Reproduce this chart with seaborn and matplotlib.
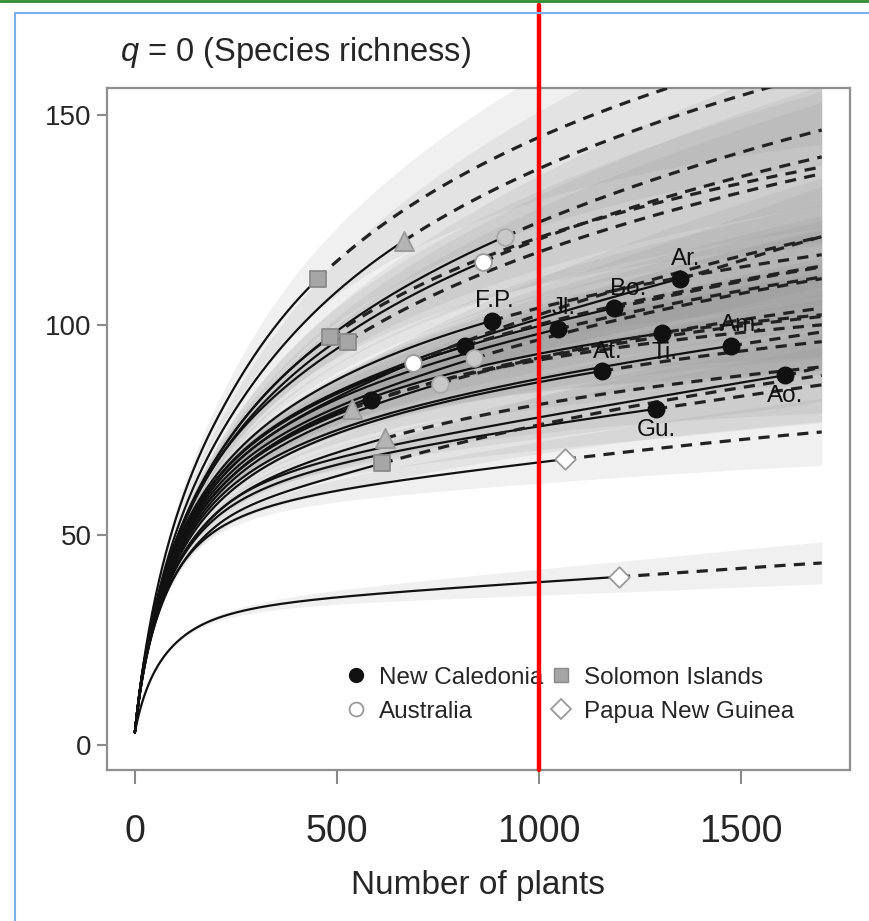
import numpy as np
import pandas as pd
import matplotlib
matplotlib.use("Agg")
import matplotlib.pyplot as plt
import seaborn as sns
from matplotlib.lines import Line2D

sns.set_style("white")
plt.rcParams['font.family'] = ['Liberation Sans', 'DejaVu Sans']
plt.rcParams['mathtext.fontset'] = 'custom'
plt.rcParams['mathtext.it'] = 'Liberation Sans:italic'
plt.rcParams['mathtext.rm'] = 'Liberation Sans'

# ---------------- data ----------------
groups = ['SI', 'TRI', 'GC', 'AU', 'SI', 'SI', 'AU', 'NC', 'NC', 'NC', 'NC', 'GC', 'NC',
          'NC', 'GC', 'NC', 'NC', 'TRI', 'NC', 'NC', 'NC', 'TRI', 'SI', 'PNG', 'PNG']
n_obs = [453, 666, 916, 861, 483, 527, 688, 1349, 884, 1186, 1047, 839, 817,
         1304, 755, 1475, 1156, 537, 585, 1609, 1290, 619, 611, 1064, 1198]
s_obs = [111, 120, 121, 115, 97, 96, 91, 111, 101, 104, 99, 92, 95,
         98, 86, 95, 89, 80, 82, 88, 80, 73, 67, 68, 40]
s_at200 = [77, 72, 68, 67, 68, 67, 62, 63, 64, 63, 62, 61, 63,
           60, 59, 58, 57, 60, 60, 55, 54, 55, 52, 51, 30]
s_end = [167, 160, 146.4, 140, 137.6, 136, 121, 121, 116.7, 113.8, 111.4, 111, 114,
         102.4, 104, 98.3, 96, 102, 100, 90, 85.7, 90, 88, 74.5, 43.3]
ci_end = [24, 22, 18, 17, 18, 17, 14, 12, 12, 11, 11, 12, 12,
          10, 12, 9, 10, 13, 12, 8, 9, 11, 11, 8, 5]
site_labels = ['', '', '', '', '', '', '', 'Ar.', 'F.P.', 'Bo.', 'Jl.', '', '',
               'Ti.', '', 'Am.', 'At.', '', '', 'Ao.', 'Gu.', '', '', '', '']
s_start = 3
n_mid = 200
n_end = 1700
legend_names = ['New Caledonia', 'Solomon Islands', 'Australia', 'Papua New Guinea']
x_ticks = [0, 500, 1000, 1500]
y_ticks = [0, 50, 100, 150]


# ---------------- smooth monotone curve through the read points ----------------
def pchip(xk, yk, x):
    xk = np.asarray(xk, float)
    yk = np.asarray(yk, float)
    h = np.diff(xk)
    d = np.diff(yk) / h
    n = len(xk)
    m = np.zeros(n)
    for k in range(1, n - 1):
        if d[k - 1] * d[k] > 0:
            w1 = 2 * h[k] + h[k - 1]
            w2 = h[k] + 2 * h[k - 1]
            m[k] = (w1 + w2) / (w1 / d[k - 1] + w2 / d[k])
    m0 = ((2 * h[0] + h[1]) * d[0] - h[0] * d[1]) / (h[0] + h[1])
    if np.sign(m0) != np.sign(d[0]):
        m0 = 0
    elif np.sign(d[0]) != np.sign(d[1]) and abs(m0) > 3 * abs(d[0]):
        m0 = 3 * d[0]
    m[0] = m0
    me = ((2 * h[-1] + h[-2]) * d[-1] - h[-1] * d[-2]) / (h[-1] + h[-2])
    if np.sign(me) != np.sign(d[-1]):
        me = 0
    elif np.sign(d[-1]) != np.sign(d[-2]) and abs(me) > 3 * abs(d[-1]):
        me = 3 * d[-1]
    m[-1] = me
    idx = np.clip(np.searchsorted(xk, x) - 1, 0, n - 2)
    t = (x - xk[idx]) / h[idx]
    h00 = 2 * t ** 3 - 3 * t ** 2 + 1
    h10 = t ** 3 - 2 * t ** 2 + t
    h01 = -2 * t ** 3 + 3 * t ** 2
    h11 = t ** 3 - t ** 2
    return h00 * yk[idx] + h10 * h[idx] * m[idx] + h01 * yk[idx + 1] + h11 * h[idx] * m[idx + 1]


def warp(n):
    return np.log1p(np.asarray(n, float) / 40.0)


rows = []
bands = []
for i in range(len(groups)):
    grid = np.linspace(0, n_end, 600)
    grid = np.sort(np.unique(np.append(grid, n_obs[i])))
    S = pchip(warp([0, n_mid, n_obs[i], n_end]), [s_start, s_at200[i], s_obs[i], s_end[i]], warp(grid))
    half = ci_end[i] * (grid / n_end) ** 0.9
    bands.append((grid, S - half, S + half))
    for g, s in zip(grid, S):
        part = 'rare' if g <= n_obs[i] else 'extra'
        rows.append((i, g, s, part))
        if g == n_obs[i]:
            rows.append((i, g, s, 'extra'))
df = pd.DataFrame(rows, columns=['curve', 'n', 'S', 'part'])
pts = pd.DataFrame({'group': groups, 'n': n_obs, 'S': s_obs})

# ---------------- figure ----------------
fig = plt.figure(figsize=(8.7, 9.21), dpi=100)
ax = fig.add_axes([107 / 870, 1 - 770 / 921, 743 / 870, 682 / 921])
ax.set_facecolor('white')

for grid, lo_, hi_ in bands:
    ax.fill_between(grid, lo_, hi_, color='#8c8c8c', alpha=0.13, lw=0, zorder=1)

sns.lineplot(data=df[df.part == 'rare'], x='n', y='S', units='curve', estimator=None,
             sort=False, color='#111111', lw=1.6, ax=ax, zorder=3)
sns.lineplot(data=df[df.part == 'extra'], x='n', y='S', units='curve', estimator=None,
             sort=False, color='#222222', lw=2.3, ax=ax, zorder=3, dashes=False,
             linestyle=(0, (3.5, 2.6)))

styles = {
    'NC': dict(marker='o', s=135, color='#111111', edgecolor='#111111'),
    'SI': dict(marker='s', s=125, color='#a6a6a6', edgecolor='#8a8a8a'),
    'AU': dict(marker='o', s=145, color='white', edgecolor='#9a9a9a'),
    'PNG': dict(marker='D', s=110, color='white', edgecolor='#9a9a9a'),
    'TRI': dict(marker='^', s=190, color='#b4b4b4', edgecolor='#9a9a9a'),
    'GC': dict(marker='o', s=145, color='#c8c8c8', edgecolor='#a8a8a8'),
}
for gname, st in styles.items():
    sub = pts[pts.group == gname]
    sns.scatterplot(data=sub, x='n', y='S', ax=ax, zorder=5, linewidth=1.3, legend=False, **st)

label_offsets = {'Ar.': (4, 14), 'F.P.': (2, 14), 'Bo.': (10, 14), 'Jl.': (4, 15),
                 'Ti.': (2, -14), 'Am.': (8, 15), 'At.': (4, 14), 'Ao.': (0, -15),
                 'Gu.': (0, -15)}
for i, lab in enumerate(site_labels):
    if lab:
        ax.annotate(lab, (n_obs[i], s_obs[i]), xytext=label_offsets[lab], textcoords='offset points',
                    ha='center', va='center', fontsize=17.5, color='#111111', zorder=6)

ax.set_xlim(-69, 1770)
ax.set_ylim(-6, 156.4)
ax.set_xticks(x_ticks)
ax.set_yticks(y_ticks)
ax.set_xticklabels([str(v) for v in x_ticks], fontsize=27)
ax.set_yticklabels([str(v) for v in y_ticks], fontsize=20)
ax.tick_params(axis='x', direction='out', length=10, width=1.5, color='#8a8a8a', pad=22, bottom=True)
ax.tick_params(axis='y', direction='out', length=7, width=1.5, color='#8a8a8a', pad=4, left=True)
for sp in ax.spines.values():
    sp.set_color('#8f8f8f')
    sp.set_linewidth(1.6)
ax.set_xlabel('Number of plants', fontsize=24, labelpad=14)
ax.set_ylabel('')

handles = [
    Line2D([], [], ls='', marker='o', ms=10, mfc='#111111', mec='#111111'),
    Line2D([], [], ls='', marker='s', ms=9.5, mfc='#a6a6a6', mec='#8a8a8a'),
    Line2D([], [], ls='', marker='o', ms=10, mfc='white', mec='#9a9a9a', mew=1.3),
    Line2D([], [], ls='', marker='D', ms=10, mfc='white', mec='#9a9a9a', mew=1.3),
]
order = [0, 2, 1, 3]
ax.legend([handles[j] for j in order], [legend_names[j] for j in order], ncol=2,
          loc='upper left', bbox_to_anchor=(0.3085, 0.166), frameon=False, fontsize=17.5,
          handlelength=0.8, handletextpad=0.55, columnspacing=0.32, labelspacing=0.5,
          borderaxespad=0)

fig.text(120 / 870, 1 - 52 / 921, r'$q$ = 0 (Species richness)', fontsize=23.5,
         ha='left', va='center')

# red marker line and screenshot frame
ax.axvline(1000, ymin=0, ymax=(770 - 5) / 682, color='red', lw=3.2, clip_on=False, zorder=10)
fig.add_artist(Line2D([0, 1], [1 - 1.5 / 921] * 2, transform=fig.transFigure, color='#2e8b2e', lw=2))
fig.add_artist(Line2D([15 / 870, 1], [1 - 13 / 921] * 2, transform=fig.transFigure, color='#7ab0ee', lw=1.5))
fig.add_artist(Line2D([15 / 870] * 2, [0, 1 - 13 / 921], transform=fig.transFigure, color='#7ab0ee', lw=1.5))

fig.savefig('out.png', dpi=100)
